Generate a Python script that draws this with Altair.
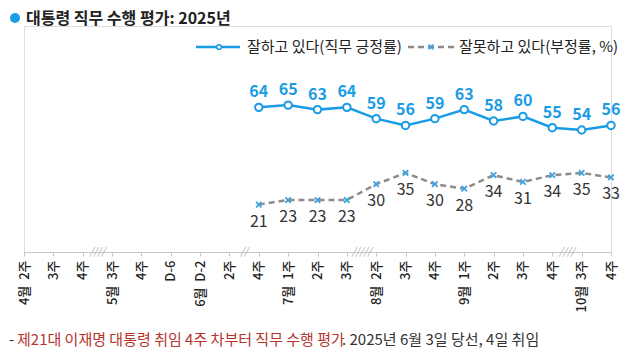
import json
import altair as alt
import pandas as pd

# ---- data ----
weeks = ["4월 2주", "4월 3주", "4월 4주", "5월 3주", "5월 4주", "6월 D-6", "6월 D-2",
         "6월 2주", "6월 4주", "7월 1주", "7월 2주", "7월 3주", "8월 2주", "8월 3주",
         "8월 4주", "9월 1주", "9월 2주", "9월 3주", "9월 4주", "10월 3주", "10월 4주"]
NB = "\u00a0\u00a0"
tick_labels = ["4월" + NB + "2주", "3주", "4주", "5월" + NB + "3주", "4주", "D-6",
               "6월" + NB + "D-2", "2주", "4주", "7월" + NB + "1주", "2주", "3주",
               "8월" + NB + "2주", "3주", "4주", "9월" + NB + "1주", "2주", "3주", "4주",
               "10월" + NB + "3주", "4주"]
survey_weeks = ["6월 4주", "7월 1주", "7월 2주", "7월 3주", "8월 2주", "8월 3주", "8월 4주",
                "9월 1주", "9월 2주", "9월 3주", "9월 4주", "10월 3주", "10월 4주"]
approve = [64, 65, 63, 64, 59, 56, 59, 63, 58, 60, 55, 54, 56]
disapprove = [21, 23, 23, 23, 30, 35, 30, 28, 34, 31, 34, 35, 33]
break_weeks = ["5월 3주", "6월 4주", "8월 2주", "10월 3주"]
break_marks = ["////", "//", "/////", "////"]

title_text = "대통령 직무 수행 평가: 2025년"
legend_pos = "잘하고 있다(직무 긍정률)"
legend_neg = "잘못하고 있다(부정률, %)"
note_red = "제21대 이재명 대통령 취임 4주 차부터 직무 수행 평가"
note_dark = ". 2025년 6월 3일 당선, 4일 취임"

FONT = "Noto Sans CJK KR"
BLUE = "#1a9be6"
XBLUE = "#3fa3e3"
GRAY = "#8c8c8c"
RED = "#b5352c"
DARK = "#333333"
X_PATH = "M-1,-1L1,1M-1,1L1,-1"

W, H = 587, 226

df = pd.DataFrame({"week": survey_weeks, "approve": approve, "disapprove": disapprove})
brk = pd.DataFrame({"week": break_weeks, "mark": break_marks})
one = pd.DataFrame({"a": [0]})

label_expr = (json.dumps(tick_labels, ensure_ascii=False) + "[indexof(" +
              json.dumps(weeks, ensure_ascii=False) + ", datum.value)]")

x_enc = alt.X("week:N", sort=weeks,
              scale=alt.Scale(type="point", domain=weeks, padding=0),
              axis=alt.Axis(title=None, labelAngle=270, labelExpr=label_expr,
                            labelFontSize=13, labelColor="#222222", labelFont=FONT,
                            labelFontWeight=500,
                            domainColor="#c8c8c8", tickColor="#c8c8c8", tickSize=4,
                            labelPadding=4, grid=False))
y_scale = alt.Scale(domain=[0, 100])
y_pos = alt.Y("approve:Q", scale=y_scale, axis=None)
y_neg = alt.Y("disapprove:Q", scale=y_scale, axis=None)

base = alt.Chart(df)
pos_line = base.mark_line(color=BLUE, strokeWidth=2.5).encode(x=x_enc, y=y_pos)
pos_pts = base.mark_point(shape="circle", filled=True, fill="white", stroke=BLUE,
                          strokeWidth=2, size=55, opacity=1).encode(x=x_enc, y=y_pos)
pos_txt = base.mark_text(color=BLUE, fontSize=16, fontWeight="bold", dy=-15,
                         font=FONT).encode(x=x_enc, y=y_pos, text="approve:Q")
neg_line = base.mark_line(color=GRAY, strokeWidth=2.5, strokeDash=[6, 4]).encode(x=x_enc, y=y_neg)
neg_pts = base.mark_point(shape=X_PATH, filled=False, color=XBLUE, size=30,
                          strokeWidth=1.8, opacity=1).encode(x=x_enc, y=y_neg)
neg_txt = base.mark_text(color=DARK, fontSize=16, dy=17, font=FONT).encode(
    x=x_enc, y=y_neg, text="disapprove:Q")

breaks = alt.Chart(brk).mark_text(color="#a8a8a8", fontSize=10, fontStyle="italic",
                                  dx=-14.7, baseline="middle", font=FONT).encode(
    x=x_enc, y=alt.value(H), text="mark:N")

deco = alt.Chart(one)
title_dot = deco.mark_point(shape="circle", filled=True, color=BLUE, size=100, opacity=1).encode(
    x=alt.value(-9), y=alt.value(-8))
title_txt = deco.mark_text(text=title_text, align="left", baseline="middle", fontSize=16,
                           fontWeight="bold", color="#222222", font=FONT).encode(
    x=alt.value(2), y=alt.value(-7))

leg1_line = deco.mark_rule(color=BLUE, strokeWidth=2.5).encode(
    x=alt.value(172), x2=alt.value(216), y=alt.value(21))
leg1_pt = deco.mark_point(shape="circle", filled=True, fill="white", stroke=BLUE,
                          strokeWidth=1.5, size=22, opacity=1).encode(x=alt.value(195), y=alt.value(21))
leg1_txt = deco.mark_text(text=legend_pos, align="left", baseline="middle", fontSize=15,
                          color="#222222", font=FONT).encode(x=alt.value(223), y=alt.value(21))
leg2_line = deco.mark_rule(color=GRAY, strokeWidth=2.5, strokeDash=[6, 4]).encode(
    x=alt.value(384), x2=alt.value(433), y=alt.value(21))
leg2_pt = deco.mark_point(shape=X_PATH, filled=False, color=XBLUE, size=22,
                          strokeWidth=1.6, opacity=1).encode(x=alt.value(407), y=alt.value(21))
leg2_txt = deco.mark_text(text=legend_neg, align="left", baseline="middle", fontSize=15,
                          color="#222222", font=FONT).encode(x=alt.value(435), y=alt.value(21))

note_dash = deco.mark_text(text="-", align="left", baseline="middle", fontSize=15,
                           color=DARK, font=FONT).encode(x=alt.value(-15), y=alt.value(314))
note1 = deco.mark_text(text=note_red, align="left", baseline="middle", fontSize=15,
                       color=RED, font=FONT).encode(x=alt.value(-7), y=alt.value(314))
note2 = deco.mark_text(text=note_dark, align="left", baseline="middle", fontSize=15,
                       color=DARK, font=FONT).encode(x=alt.value(318), y=alt.value(314))

chart = alt.layer(
    neg_line, neg_pts, neg_txt, pos_line, pos_pts, pos_txt, breaks,
    title_dot, title_txt, leg1_line, leg1_pt, leg1_txt, leg2_line, leg2_pt, leg2_txt,
    note_dash, note1, note2,
).properties(
    width=W, height=H,
    autosize=alt.AutoSizeParams(type="none"),
    padding={"left": 16, "top": 18, "right": 21, "bottom": 96},
).configure_view(stroke=None).configure(font=FONT)

chart.save("out.html", embed_options={"renderer": "svg", "actions": False})
